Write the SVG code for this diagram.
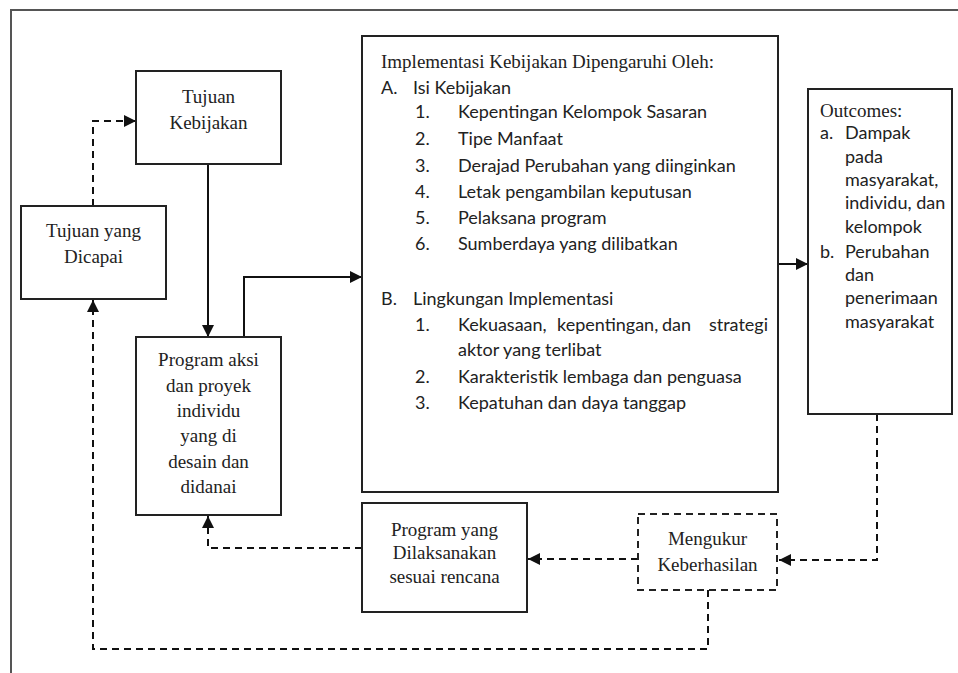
<svg xmlns="http://www.w3.org/2000/svg" width="958" height="673" viewBox="0 0 958 673">
<defs>
<marker id="ah" viewBox="0 0 12 12" refX="12" refY="6" markerWidth="12" markerHeight="12" markerUnits="userSpaceOnUse" orient="auto">
<path d="M0,0 L12,6 L0,12 Z" fill="#111"/>
</marker>
<style>
.frame{fill:none;stroke:#555;stroke-width:2}
.box{fill:#fff;stroke:#222;stroke-width:2}
.dbox{fill:#fff;stroke:#222;stroke-width:2;stroke-dasharray:7 5}
.solid{fill:none;stroke:#111;stroke-width:2}
.dash{fill:none;stroke:#111;stroke-width:2;stroke-dasharray:7 5}
.serif{font-family:"Liberation Serif","Times New Roman",serif;font-size:19px;fill:#222}
.sans{font-family:Lato,"Open Sans",sans-serif;font-size:18px;fill:#222}
.c{text-anchor:middle}
</style>
</defs>
<rect width="958" height="673" fill="#fff"/>
<path class="frame" d="M11,673 V10 H958"/>

<g id="connectors">
<path class="dash" d="M93,206 V121 H136" marker-end="url(#ah)"/>
<path class="solid" d="M208,164 V337" marker-end="url(#ah)"/>
<path class="solid" d="M244,337 V277 H362" marker-end="url(#ah)"/>
<path class="solid" d="M778,264 H808" marker-end="url(#ah)"/>
<path class="dash" d="M877,414 V560 H779" marker-end="url(#ah)"/>
<path class="dash" d="M638,559 H528" marker-end="url(#ah)"/>
<path class="dash" d="M362,548 H208 V516" marker-end="url(#ah)"/>
<path class="dash" d="M708,590 V649 H93 V300" marker-end="url(#ah)"/>
</g>

<g id="tujuan-kebijakan">
<rect class="box" x="136" y="71" width="145" height="93"/>
<text class="serif c" x="208.5" y="103">Tujuan</text>
<text class="serif c" x="208.5" y="129">Kebijakan</text>
</g>

<g id="tujuan-dicapai">
<rect class="box" x="21" y="206" width="145" height="93"/>
<text class="serif c" x="93.5" y="237">Tujuan yang</text>
<text class="serif c" x="93.5" y="263">Dicapai</text>
</g>

<g id="program-aksi">
<rect class="box" x="136" y="337" width="145" height="178"/>
<text class="serif c" x="208.5" y="366">Program aksi</text>
<text class="serif c" x="208.5" y="392">dan proyek</text>
<text class="serif c" x="208.5" y="417">individu</text>
<text class="serif c" x="208.5" y="442">yang di</text>
<text class="serif c" x="208.5" y="468">desain dan</text>
<text class="serif c" x="208.5" y="493">didanai</text>
</g>

<g id="implementasi">
<rect class="box" x="362" y="36" width="416" height="456"/>
<text class="serif" x="381" y="68">Implementasi Kebijakan Dipengaruhi Oleh:</text>
<text class="sans" x="381" y="94">A.</text>
<text class="sans" x="413" y="94">Isi Kebijakan</text>
<text class="sans" x="415" y="118">1.</text>
<text class="sans" x="458" y="118">Kepentingan Kelompok Sasaran</text>
<text class="sans" x="415" y="145">2.</text>
<text class="sans" x="458" y="145">Tipe Manfaat</text>
<text class="sans" x="415" y="172">3.</text>
<text class="sans" x="458" y="172">Derajad Perubahan yang diinginkan</text>
<text class="sans" x="415" y="198">4.</text>
<text class="sans" x="458" y="198">Letak pengambilan keputusan</text>
<text class="sans" x="415" y="224">5.</text>
<text class="sans" x="458" y="224">Pelaksana program</text>
<text class="sans" x="415" y="250">6.</text>
<text class="sans" x="458" y="250">Sumberdaya yang dilibatkan</text>
<text class="sans" x="381" y="305">B.</text>
<text class="sans" x="413" y="305">Lingkungan Implementasi</text>
<text class="sans" x="415" y="331">1.</text>
<text class="sans" y="331"><tspan x="458">Kekuasaan,</tspan><tspan x="557">kepentingan,</tspan><tspan x="662">dan</tspan><tspan x="768" text-anchor="end">strategi</tspan></text>
<text class="sans" x="458" y="356">aktor yang terlibat</text>
<text class="sans" x="415" y="383">2.</text>
<text class="sans" x="458" y="383">Karakteristik lembaga dan penguasa</text>
<text class="sans" x="415" y="409">3.</text>
<text class="sans" x="458" y="409">Kepatuhan dan daya tanggap</text>
</g>

<g id="outcomes">
<rect class="box" x="808" y="89" width="144" height="325"/>
<text class="serif" x="820" y="117">Outcomes:</text>
<text class="sans" x="820" y="139">a.</text>
<text class="sans" x="845" y="139">Dampak</text>
<text class="sans" x="845" y="163">pada</text>
<text class="sans" x="845" y="186">masyarakat,</text>
<text class="sans" x="845" y="209">individu, dan</text>
<text class="sans" x="845" y="233">kelompok</text>
<text class="sans" x="820" y="258">b.</text>
<text class="sans" x="845" y="258">Perubahan</text>
<text class="sans" x="845" y="281">dan</text>
<text class="sans" x="845" y="304">penerimaan</text>
<text class="sans" x="845" y="328">masyarakat</text>
</g>

<g id="program-dilaksanakan">
<rect class="box" x="362" y="503" width="165" height="109"/>
<text class="serif c" x="444.5" y="536">Program yang</text>
<text class="serif c" x="444.5" y="559">Dilaksanakan</text>
<text class="serif c" x="444.5" y="583">sesuai rencana</text>
</g>

<g id="mengukur">
<rect class="dbox" x="638" y="514" width="139" height="76"/>
<text class="serif c" x="707.5" y="545">Mengukur</text>
<text class="serif c" x="707.5" y="571">Keberhasilan</text>
</g>
</svg>
